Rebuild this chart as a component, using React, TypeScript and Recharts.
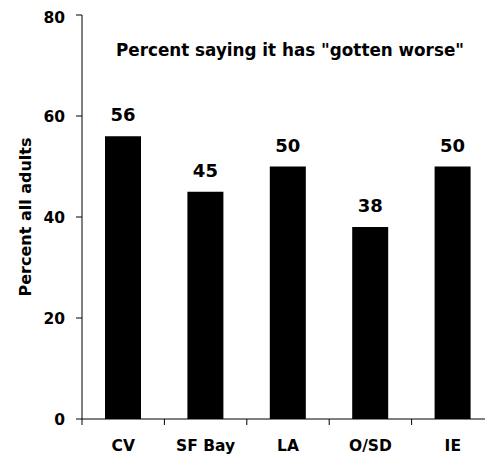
import React from "react";
import { BarChart, Bar, XAxis, YAxis, LabelList, Customized } from "recharts";

const categories = ["CV", "SF Bay", "LA", "O/SD", "IE"];
const worseValues = [56, 45, 50, 38, 50];
const yTicks = [0, 20, 40, 60, 80];
const titleText = 'Percent saying it has "gotten worse"';
const yLabelText = "Percent all adults";

const data = categories.map((c, i) => ({ region: c, worse: worseValues[i] }));

const FONT = "'DejaVu Sans', sans-serif";

const CategoryTick = (props: any) => {
  const { x, y, payload } = props;
  const half = payload && typeof payload.offset === "number" ? payload.offset : 41.2;
  return (
    <g>
      <line x1={x - half} x2={x - half} y1={y - 6} y2={y} stroke="#000" strokeWidth={1} />
      <text x={x} y={y + 25.5} textAnchor="middle" fontFamily={FONT} fontWeight="bold" fontSize={15.5} fill="#000">
        {payload.value}
      </text>
    </g>
  );
};

const YLabel = (props: any) => {
  const vb = props.viewBox || {};
  const cx = (vb.x ?? 0) + 17;
  const cy = (vb.y ?? 0) + (vb.height ?? 0) / 2;
  return (
    <text
      x={cx}
      y={cy}
      transform={`rotate(-90, ${cx}, ${cy})`}
      textAnchor="middle"
      dominantBaseline="central"
      fontFamily={FONT}
      fontWeight="bold"
      fontSize={16}
      fill="#000"
    >
      {yLabelText}
    </text>
  );
};

const Title = () => (
  <text x={282} y={47.5} textAnchor="middle" fontFamily={FONT} fontWeight="bold" fontSize={16.8} fill="#000">
    {titleText}
  </text>
);

export default function App() {
  return (
    <div style={{ position: "absolute", left: 8, top: 8, width: 477, height: 448, overflow: "hidden" }}>
      <BarChart width={500} height={448} data={data} margin={{ top: 7, right: 14, bottom: 0, left: 0 }}>
        <XAxis
          dataKey="region"
          height={37}
          tickLine={false}
          tickSize={6}
          tickMargin={0}
          axisLine={{ stroke: "#000" }}
          tick={<CategoryTick />}
          interval={0}
        />
        <YAxis
          width={74}
          domain={[0, 80]}
          ticks={yTicks}
          tickSize={6}
          tickMargin={11}
          axisLine={{ stroke: "#000" }}
          tickLine={{ stroke: "#000" }}
          tick={{ fontFamily: FONT, fontWeight: "bold", fontSize: 15.5, fill: "#000" }}
          label={<YLabel />}
        />
        <Bar dataKey="worse" fill="#000" barSize={36} isAnimationActive={false}>
          <LabelList
            dataKey="worse"
            position="top"
            offset={15}
            style={{ fontFamily: FONT, fontWeight: "bold", fontSize: 18, fill: "#000" }}
          />
        </Bar>
        <Customized component={Title} />
      </BarChart>
    </div>
  );
}
